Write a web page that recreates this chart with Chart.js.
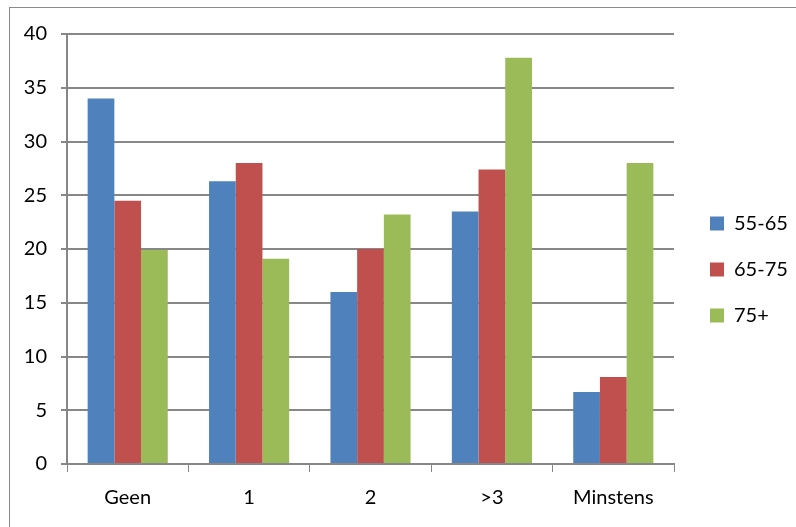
<!DOCTYPE html>
<html>
<head>
<meta charset="utf-8">
<style>
  html, body { margin: 0; padding: 0; background: #fff; overflow: hidden; }
  #wrap { position: relative; width: 796px; height: 527px; }
  #frame { position: absolute; left: 9px; top: 7px; width: 800px; height: 540px; border: 1px solid #8a8a8a; pointer-events: none; }
</style>
</head>
<body>
<div id="wrap">
  <canvas id="myChart" width="796" height="527"></canvas>
  <div id="frame"></div>
</div>
<script src="https://cdn.jsdelivr.net/npm/chart.js@4"></script>
<script>
const categories = ["Geen", "1", "2", ">3", "Minstens"];
const series_names = ["55-65", "65-75", "75+"];
const values_5565 = [34, 26.3, 16, 23.5, 6.7];
const values_6575 = [24.5, 28, 20, 27.4, 8.1];
const values_75 = [19.9, 19.1, 23.2, 37.8, 28];
const y_ticks = [0, 5, 10, 15, 20, 25, 30, 35, 40];

const colors = ['#4F81BD', '#C0504D', '#9BBB59'];
const gridColor = '#878787';
const fontFam = 'Lato';

// fixed legend width so the plot ends where the reference does
const legendFix = {
	id: 'legendFix',
	beforeUpdate: function(chart) {
		if (chart.legend && !chart.legend._fixed) {
			const orig = chart.legend.fit;
			chart.legend.fit = function() {
				orig.call(this);
				this.width = 122;
			};
			chart.legend._fixed = true;
		}
	},
	afterLayout: function(chart) {
		chart.legend.top -= 11;
		chart.legend.bottom -= 11;
		chart.legend.left += 10;
		chart.legend.right += 10;
	}
};

var ctx = document.getElementById("myChart");
var myChart = new Chart(ctx, {
	type: 'bar',
	data: {
		labels: categories,
		datasets: [
			{ label: series_names[0], data: values_5565, backgroundColor: colors[0] },
			{ label: series_names[1], data: values_6575, backgroundColor: colors[1] },
			{ label: series_names[2], data: values_75, backgroundColor: colors[2] }
		]
	},
	options: {
		responsive: false,
		animation: false,
		layout: { padding: { top: 34, right: 0, left: 0, bottom: 0 } },
		datasets: { bar: { barPercentage: 1, categoryPercentage: 0.66 } },
		plugins: {
			tooltip: { enabled: false },
			legend: {
				position: 'right',
				align: 'center',
				labels: {
					boxWidth: 14,
					boxHeight: 14,
					padding: 26,
					color: '#000',
					font: { family: fontFam, size: 20 }
				}
			}
		},
		scales: {
			x: {
				grid: { drawOnChartArea: false, drawTicks: true, tickLength: 8, color: gridColor, offset: true },
				border: { color: gridColor, width: 2 },
				ticks: { color: '#000', padding: 14, font: { family: fontFam, size: 20 } },
				afterFit: function(scale) { scale.height = 63; }
			},
			y: {
				min: 0,
				max: 40,
				afterBuildTicks: function(scale) { scale.ticks = y_ticks.map(v => ({ value: v })); },
				grid: { color: gridColor, lineWidth: 2, tickLength: 6 },
				border: { color: gridColor, width: 2 },
				ticks: { color: '#000', padding: 14, font: { family: fontFam, size: 20 } },
				afterFit: function(scale) { scale.width = 67; }
			}
		}
	},
	plugins: [legendFix]
});
</script>
</body>
</html>
